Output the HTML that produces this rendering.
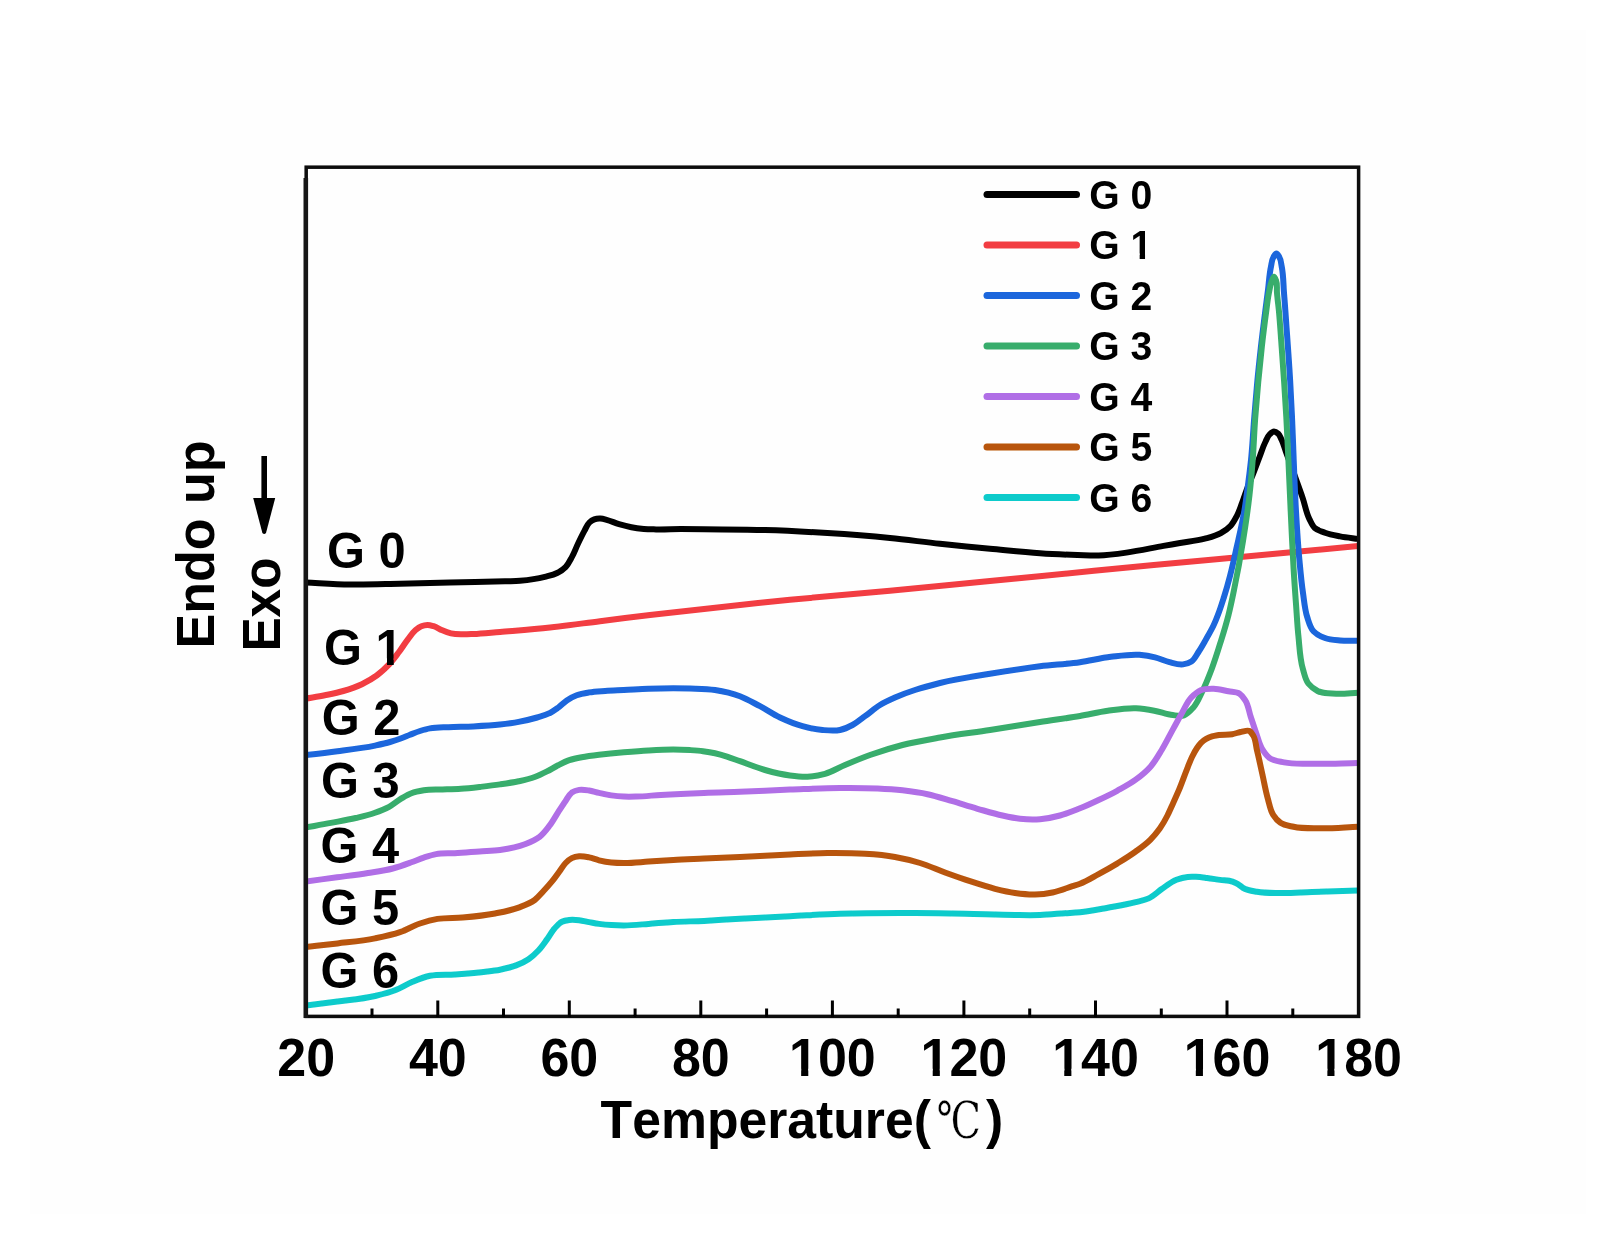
<!DOCTYPE html>
<html lang="en"><head><meta charset="utf-8"><title>DSC curves</title>
<style>
html,body{margin:0;padding:0;background:#fff;}
text{font-kerning:none;font-variant-ligatures:none;}
body{width:1616px;height:1244px;position:relative;overflow:hidden;font-family:"Liberation Sans","Noto Sans CJK SC",sans-serif;}
</style></head><body>
<svg width="1616" height="1244" viewBox="0 0 1616 1244" style="position:absolute;left:0;top:0">
<rect x="30" y="30" width="1556" height="1184" fill="#fefefe"/>
<defs><clipPath id="cp"><rect x="306.2" y="167.2" width="1052.4" height="849.2"/></clipPath><clipPath id="foot" clipPathUnits="userSpaceOnUse"><path clip-rule="evenodd" d="M0 0H1616V1244H0Z M791.28 1068.72H801.16V1076.56H791.28Z M808.29 1068.72H817.51V1076.56H808.29Z M922.83 1068.72H932.71V1076.56H922.83Z M939.84 1068.72H949.06V1076.56H939.84Z M1054.38 1068.72H1064.26V1076.56H1054.38Z M1071.39 1068.72H1080.61V1076.56H1071.39Z M1185.93 1068.72H1195.81V1076.56H1185.93Z M1202.94 1068.72H1212.16V1076.56H1202.94Z M1317.48 1068.72H1327.36V1076.56H1317.48Z M1334.49 1068.72H1343.71V1076.56H1334.49Z M1132.24 253.61H1139.67V259.80H1132.24Z M1145.05 253.61H1151.99V259.80H1145.05Z M377.74 658.15H387.01V665.51H377.74Z M393.70 658.15H402.35V665.51H393.70Z"/></clipPath><filter id="soft" x="-2%" y="-2%" width="104%" height="104%"><feGaussianBlur stdDeviation="0.5"/></filter></defs>
<g filter="url(#soft)">
<g clip-path="url(#cp)" fill="none" stroke-width="6.0" stroke-linejoin="round" stroke-linecap="butt">
<path d="M306.0 582.5 C320.7 583.2 335.3 584.2 350.0 584.5 C366.7 584.8 383.3 584.1 400.0 583.8 C425.0 583.3 450.0 582.6 475.0 582.0 C485.0 581.8 495.0 581.6 505.0 581.3 C510.0 581.1 515.0 581.2 520.0 580.8 C528.3 580.1 536.7 579.0 544.8 576.9 C548.9 575.8 553.3 575.0 557.1 573.0 C560.2 571.4 563.4 569.3 565.8 566.8 C568.4 564.0 570.1 560.3 572.0 556.9 C574.4 552.5 576.0 547.8 578.2 543.3 C580.2 539.1 582.2 534.9 584.4 530.9 C586.0 528.1 587.0 524.7 589.3 522.6 C590.7 521.3 592.5 520.1 594.3 519.4 C596.2 518.7 598.4 518.5 600.4 518.6 C602.5 518.7 604.6 519.3 606.6 519.8 C610.8 520.8 614.8 522.9 619.0 524.1 C623.1 525.3 627.2 526.4 631.4 527.2 C635.5 528.0 639.6 528.5 643.8 528.9 C647.9 529.3 652.0 529.3 656.1 529.4 C664.4 529.6 672.6 529.1 680.9 529.1 C688.6 529.1 696.3 529.2 704.0 529.3 C724.3 529.5 744.7 529.4 765.0 530.0 C785.8 530.6 806.7 531.7 827.5 533.0 C848.4 534.3 869.2 535.9 890.0 538.0 C906.7 539.7 923.3 542.0 940.0 543.8 C956.7 545.5 973.3 547.2 990.0 548.8 C1006.7 550.3 1023.3 552.2 1040.0 553.2 C1052.5 554.1 1065.0 554.6 1077.5 555.0 C1084.5 555.2 1091.6 555.7 1098.6 555.5 C1107.9 555.2 1117.2 553.9 1126.4 552.6 C1138.8 550.9 1151.1 548.1 1163.5 545.9 C1169.0 544.9 1174.5 544.0 1180.0 543.0 C1188.2 541.6 1196.7 540.9 1204.8 538.7 C1210.2 537.2 1215.9 535.9 1220.8 533.1 C1224.3 531.1 1228.0 528.7 1230.7 525.7 C1233.3 522.9 1235.1 519.2 1236.9 515.8 C1238.9 511.9 1240.3 507.6 1241.9 503.4 C1243.6 498.8 1245.1 494.1 1246.8 489.5 C1248.5 485.0 1250.4 480.6 1252.2 476.2 C1254.9 469.4 1257.4 462.5 1260.0 455.7 C1261.8 451.0 1263.3 446.0 1265.6 441.5 C1266.8 439.1 1267.7 436.3 1269.5 434.5 C1270.8 433.2 1272.5 431.4 1274.0 431.4 C1275.4 431.4 1277.1 432.7 1278.3 433.8 C1279.8 435.2 1280.5 437.6 1281.5 439.5 C1283.4 443.5 1284.5 447.8 1286.0 452.0 C1288.5 458.8 1291.0 465.6 1293.5 472.4 C1296.6 481.1 1299.9 489.7 1302.8 498.4 C1305.1 505.2 1306.1 512.4 1309.3 518.8 C1310.9 522.0 1312.3 525.7 1314.8 528.0 C1317.4 530.4 1321.5 531.4 1325.0 532.7 C1329.8 534.5 1335.0 535.4 1340.0 536.4 C1345.9 537.6 1352.0 538.1 1358.0 538.9" stroke="#000000"/>
<path d="M306.0 698.6 C312.2 697.5 318.5 696.6 324.8 695.3 C331.0 694.0 337.2 692.8 343.3 691.0 C349.6 689.1 356.0 687.0 361.9 684.2 C367.0 681.7 372.1 678.9 376.7 675.5 C381.2 672.2 385.3 668.4 389.1 664.4 C392.7 660.6 395.8 656.2 399.0 652.0 C402.0 648.0 404.6 643.6 407.7 639.6 C410.1 636.5 412.2 633.0 415.1 630.5 C417.0 628.9 419.0 627.1 421.3 626.2 C423.2 625.4 425.4 624.9 427.5 624.9 C429.6 624.9 431.7 625.6 433.7 626.2 C436.7 627.1 439.4 629.1 442.3 630.3 C445.1 631.5 448.0 632.6 451.0 633.3 C454.2 634.0 457.6 634.2 460.9 634.3 C465.0 634.5 469.2 634.2 473.3 634.0 C482.2 633.6 491.1 632.6 500.0 631.9 C516.7 630.5 533.4 629.3 550.0 627.5 C566.7 625.7 583.3 623.3 600.0 621.2 C616.7 619.2 633.3 617.0 650.0 615.0 C668.0 612.9 686.0 611.0 704.0 609.0 C732.7 605.9 761.3 602.6 790.0 599.8 C823.3 596.5 856.7 593.9 890.0 590.8 C923.3 587.7 956.7 584.3 990.0 581.0 C1024.7 577.6 1059.3 574.2 1094.0 570.8 C1135.7 566.8 1177.5 562.8 1219.2 558.9 C1265.5 554.6 1311.7 550.4 1358.0 546.1" stroke="#f23c42"/>
<path d="M306.0 755.0 C316.5 753.8 327.0 752.6 337.5 751.2 C350.0 749.6 362.6 748.2 375.0 745.6 C380.0 744.5 385.1 743.4 390.0 742.0 C393.4 741.0 396.7 740.0 400.0 738.8 C403.4 737.6 406.7 736.1 410.0 734.8 C413.3 733.5 416.6 732.1 420.0 731.0 C423.3 730.0 426.6 729.0 430.0 728.4 C436.0 727.3 442.3 727.5 448.5 727.2 C456.8 726.8 465.0 726.8 473.3 726.4 C482.2 726.0 491.1 725.6 500.0 724.6 C506.2 723.9 512.5 723.1 518.6 721.9 C524.8 720.7 531.0 719.3 537.1 717.5 C541.3 716.2 545.6 715.2 549.5 713.2 C552.6 711.7 555.4 709.6 558.2 707.6 C561.2 705.4 563.7 702.5 566.8 700.4 C569.9 698.4 573.3 696.6 576.7 695.3 C580.6 693.8 584.9 693.1 589.1 692.4 C594.4 691.5 599.8 691.3 605.2 690.9 C611.4 690.5 617.6 690.3 623.8 690.0 C632.0 689.6 640.3 689.0 648.5 688.7 C656.8 688.4 665.0 688.3 673.3 688.3 C678.9 688.3 684.4 688.3 690.0 688.5 C698.3 688.8 706.8 688.7 715.0 690.0 C723.5 691.3 732.0 693.2 740.0 696.2 C746.9 698.9 753.4 702.8 760.0 706.2 C766.8 709.8 773.1 714.2 780.0 717.5 C787.3 720.9 794.8 724.1 802.5 726.2 C809.0 728.1 815.8 729.4 822.5 730.0 C828.3 730.5 834.4 731.2 840.0 730.0 C844.3 729.1 848.6 727.1 852.5 725.0 C857.0 722.6 860.9 719.2 865.0 716.2 C870.1 712.6 874.7 708.2 880.0 705.0 C884.8 702.1 889.9 699.8 895.0 697.5 C901.5 694.6 908.2 692.2 915.0 690.0 C923.2 687.3 931.6 685.1 940.0 683.0 C956.4 678.9 973.3 676.5 990.0 673.8 C1006.6 671.0 1023.3 668.3 1040.0 666.2 C1053.3 664.6 1066.7 664.1 1080.0 662.2 C1090.3 660.7 1100.5 658.0 1110.9 656.8 C1120.3 655.7 1130.0 654.1 1139.4 654.8 C1144.6 655.2 1149.9 656.0 1155.0 657.3 C1159.9 658.5 1164.6 661.0 1169.5 662.2 C1173.9 663.3 1178.6 665.0 1183.0 664.4 C1185.8 664.0 1189.0 663.1 1191.4 661.5 C1194.7 659.3 1196.5 654.9 1198.8 651.5 C1201.5 647.5 1203.8 643.2 1206.2 639.0 C1208.7 634.6 1211.3 630.1 1213.5 625.5 C1215.6 621.1 1217.3 616.6 1219.0 612.0 C1220.8 607.1 1222.4 602.0 1224.0 597.0 C1226.2 590.1 1228.2 583.0 1230.0 576.0 C1232.4 566.7 1234.4 557.4 1236.5 548.0 C1239.3 535.4 1242.4 522.8 1244.5 510.0 C1245.9 501.7 1246.9 493.3 1248.0 485.0 C1249.1 476.7 1250.1 468.3 1251.0 460.0 C1252.5 445.7 1253.1 431.3 1254.3 417.0 C1255.3 405.2 1256.2 393.4 1257.3 381.6 C1258.4 369.8 1259.7 358.0 1261.0 346.2 C1262.3 334.4 1263.8 322.6 1265.3 310.8 C1266.2 303.9 1267.1 296.9 1268.0 290.0 C1269.0 282.2 1269.3 274.2 1271.0 266.5 C1271.7 263.3 1271.8 259.7 1273.5 257.0 C1274.3 255.8 1275.4 253.6 1276.4 253.6 C1277.4 253.6 1278.5 255.8 1279.3 257.0 C1281.0 259.7 1281.0 263.3 1281.7 266.5 C1283.5 275.2 1283.3 284.2 1284.0 293.0 C1285.0 304.8 1285.8 316.7 1286.6 328.5 C1287.9 346.2 1289.2 363.9 1290.2 381.6 C1290.9 393.4 1291.5 405.2 1292.0 417.0 C1292.7 431.3 1293.1 445.7 1293.7 460.0 C1294.4 477.1 1295.0 494.3 1296.0 511.4 C1296.9 526.9 1297.8 542.4 1299.2 557.8 C1300.3 569.6 1301.3 581.3 1303.0 593.0 C1304.2 601.0 1304.7 609.3 1307.2 617.0 C1308.8 621.9 1310.1 627.7 1313.5 631.3 C1316.4 634.4 1320.9 636.5 1325.0 638.0 C1329.7 639.7 1335.0 640.0 1340.0 640.5 C1346.0 641.1 1352.0 640.7 1358.0 640.8" stroke="#1a66dc"/>
<path d="M306.0 827.4 C314.3 825.9 322.6 824.5 330.9 822.9 C339.2 821.3 347.5 819.9 355.7 818.0 C361.9 816.5 368.3 815.1 374.3 813.0 C379.3 811.2 384.4 809.3 389.1 806.8 C393.5 804.4 397.2 800.9 401.5 798.4 C404.7 796.5 407.9 794.5 411.4 793.2 C415.3 791.7 419.6 790.9 423.8 790.2 C429.9 789.2 436.1 789.7 442.3 789.5 C448.5 789.3 454.7 789.2 460.9 788.8 C467.1 788.4 473.3 787.7 479.5 787.0 C486.3 786.2 493.2 785.4 500.0 784.4 C506.2 783.5 512.5 782.6 518.6 781.3 C524.0 780.1 529.5 778.9 534.7 777.0 C538.9 775.4 543.0 773.4 547.0 771.4 C550.8 769.5 554.4 767.1 558.2 765.2 C561.8 763.4 565.5 761.5 569.3 760.2 C573.3 758.8 577.5 758.0 581.7 757.2 C587.4 756.1 593.2 755.4 599.0 754.7 C607.2 753.7 615.5 752.9 623.8 752.2 C632.0 751.5 640.3 750.8 648.5 750.4 C656.8 750.0 665.0 749.6 673.3 749.6 C678.9 749.6 684.4 749.8 690.0 750.1 C694.3 750.4 698.7 750.7 703.0 751.2 C707.0 751.7 711.0 752.3 715.0 753.2 C719.1 754.1 723.0 755.3 727.0 756.6 C731.4 758.0 735.7 759.7 740.0 761.2 C748.3 764.2 756.5 767.6 765.0 770.0 C773.2 772.3 781.6 774.4 790.0 775.5 C795.8 776.3 801.7 777.0 807.5 776.8 C813.4 776.5 819.4 775.4 825.0 773.8 C831.9 771.8 838.3 767.8 845.0 765.0 C853.3 761.5 861.6 758.0 870.0 755.0 C880.7 751.2 891.5 747.8 902.5 745.0 C914.8 741.8 927.5 739.7 940.0 737.5 C956.6 734.5 973.3 732.6 990.0 730.0 C1006.7 727.4 1023.3 724.6 1040.0 722.0 C1053.3 719.9 1066.7 718.3 1080.0 716.0 C1089.3 714.4 1098.5 712.1 1107.8 710.8 C1117.1 709.5 1126.6 707.9 1136.0 708.3 C1142.1 708.6 1148.3 709.6 1154.3 710.7 C1160.5 711.8 1166.5 714.5 1172.8 715.1 C1176.5 715.5 1180.7 716.4 1184.0 715.3 C1187.5 714.1 1190.6 710.6 1193.2 707.7 C1197.4 703.1 1199.7 696.7 1202.5 691.0 C1206.1 683.8 1209.0 676.2 1211.8 668.7 C1215.3 659.5 1218.1 650.2 1221.0 640.8 C1223.7 632.2 1226.3 623.6 1228.5 614.9 C1230.6 606.7 1232.3 598.3 1234.0 590.0 C1237.4 573.7 1240.4 557.4 1243.0 541.0 C1245.5 525.7 1247.8 510.4 1249.5 495.0 C1250.8 483.4 1251.8 471.7 1252.7 460.0 C1253.8 445.7 1254.2 431.3 1255.3 417.0 C1256.2 405.2 1257.2 393.4 1258.3 381.6 C1259.4 369.8 1260.6 358.0 1261.9 346.2 C1263.2 334.4 1264.7 322.6 1266.3 310.8 C1267.1 304.9 1267.7 298.9 1268.9 293.0 C1269.7 289.1 1270.1 285.1 1271.6 281.5 C1272.3 279.9 1273.2 276.6 1274.0 276.8 C1274.7 276.9 1275.5 279.2 1276.0 280.5 C1277.6 284.3 1276.6 288.8 1277.0 293.0 C1277.5 298.9 1278.3 304.9 1278.9 310.8 C1280.0 322.6 1280.7 334.4 1281.6 346.2 C1282.5 358.0 1283.3 369.8 1284.1 381.6 C1284.9 393.4 1285.6 405.2 1286.3 417.0 C1287.1 431.3 1287.7 445.7 1288.4 460.0 C1289.2 477.1 1289.9 494.3 1290.7 511.4 C1291.6 529.9 1292.4 548.5 1293.5 567.0 C1294.2 579.3 1295.1 591.7 1296.0 604.0 C1296.8 615.0 1297.3 626.0 1298.5 637.0 C1299.6 647.6 1299.8 658.5 1302.8 668.7 C1304.3 673.7 1305.2 679.5 1308.3 683.5 C1310.7 686.5 1314.2 689.2 1317.6 691.0 C1323.0 693.8 1330.0 693.3 1336.2 693.7 C1343.4 694.1 1350.7 693.1 1358.0 692.8" stroke="#38ad6c"/>
<path d="M306.0 881.5 C316.4 880.1 326.7 878.7 337.1 877.3 C347.4 875.9 357.7 874.7 368.0 873.0 C376.3 871.7 384.7 870.7 392.8 868.5 C399.1 866.8 405.3 864.5 411.4 862.3 C415.6 860.8 419.6 859.0 423.8 857.6 C427.8 856.3 431.9 854.9 436.1 854.1 C442.2 853.0 448.5 853.6 454.7 853.2 C463.0 852.7 471.2 852.0 479.5 851.4 C486.3 850.9 493.2 850.9 500.0 850.0 C508.4 848.8 516.9 847.4 524.8 844.3 C529.9 842.3 535.3 840.2 539.6 836.8 C543.4 833.8 546.5 829.6 549.5 825.7 C552.8 821.4 555.3 816.6 558.2 812.1 C560.6 808.4 563.0 804.5 565.6 800.9 C567.6 798.1 569.1 794.5 571.8 792.6 C573.9 791.2 576.7 790.3 579.2 789.9 C582.4 789.4 585.8 790.0 589.1 790.5 C592.4 791.0 595.7 792.2 599.0 792.9 C603.1 793.8 607.2 794.8 611.4 795.4 C615.5 796.0 619.7 796.4 623.8 796.6 C627.9 796.8 632.0 796.7 636.1 796.6 C644.4 796.4 652.6 795.4 660.9 794.9 C675.3 794.0 689.6 793.4 704.0 792.9 C716.0 792.4 728.0 792.2 740.0 791.8 C756.7 791.2 773.3 790.2 790.0 789.6 C806.7 789.0 823.3 788.1 840.0 788.0 C852.5 787.9 865.0 787.9 877.5 788.5 C885.8 788.9 894.2 789.4 902.5 790.3 C910.9 791.3 919.3 792.4 927.5 794.2 C935.9 796.0 944.2 798.8 952.5 801.2 C960.9 803.7 969.1 806.4 977.5 808.8 C985.8 811.1 994.1 813.6 1002.5 815.5 C1008.3 816.8 1014.1 818.1 1020.0 818.8 C1026.6 819.5 1033.4 819.8 1040.0 819.2 C1046.7 818.7 1053.5 817.3 1060.0 815.5 C1066.8 813.7 1073.4 810.9 1080.0 808.3 C1086.3 805.8 1092.5 802.9 1098.6 800.0 C1104.8 797.1 1111.1 794.1 1117.1 790.8 C1123.4 787.3 1129.9 784.0 1135.7 779.7 C1141.0 775.8 1146.2 771.6 1150.5 766.7 C1154.9 761.7 1158.2 755.7 1161.7 750.0 C1165.7 743.4 1169.1 736.4 1172.8 729.6 C1175.9 724.0 1178.9 718.3 1182.1 712.7 C1185.1 707.5 1187.3 701.5 1191.4 697.3 C1194.1 694.6 1197.2 691.7 1200.7 690.2 C1204.6 688.6 1209.4 688.6 1213.7 688.7 C1218.7 688.8 1223.6 690.3 1228.5 691.3 C1232.2 692.0 1236.6 691.7 1239.6 693.7 C1241.9 695.2 1243.6 697.9 1245.2 700.2 C1248.4 705.0 1248.9 711.4 1250.8 717.0 C1252.7 722.6 1254.4 728.2 1256.4 733.7 C1258.2 738.7 1259.2 744.0 1261.9 748.5 C1263.9 751.9 1266.3 755.5 1269.3 757.8 C1273.3 760.8 1279.2 761.3 1284.2 762.4 C1293.2 764.3 1302.7 763.5 1312.0 763.7 C1327.3 764.1 1342.7 763.2 1358.0 763.0" stroke="#b06ee6"/>
<path d="M306.0 947.0 C316.5 945.8 327.0 944.7 337.5 943.4 C350.0 941.9 362.7 940.9 375.0 938.4 C383.4 936.7 391.9 935.0 400.0 932.2 C406.8 929.8 413.1 925.8 420.0 923.5 C425.7 921.6 431.6 919.9 437.5 918.9 C445.7 917.5 454.2 918.2 462.5 917.5 C473.4 916.6 484.3 915.6 495.0 913.5 C502.9 911.9 511.0 910.4 518.6 907.6 C524.1 905.5 530.0 903.5 534.7 900.0 C537.9 897.6 540.5 894.3 543.3 891.3 C546.3 888.1 549.2 884.8 552.0 881.4 C554.6 878.2 557.0 874.8 559.4 871.5 C561.5 868.7 563.1 865.5 565.6 863.0 C567.4 861.2 569.5 859.2 571.8 858.1 C574.0 857.0 576.7 856.4 579.2 856.2 C582.5 855.9 585.9 856.7 589.1 857.4 C592.5 858.1 595.7 859.5 599.0 860.3 C603.1 861.3 607.2 862.1 611.4 862.5 C615.5 862.9 619.7 863.0 623.8 863.0 C632.0 863.1 640.3 862.1 648.5 861.6 C656.8 861.1 665.0 860.4 673.3 859.9 C683.5 859.3 693.8 858.9 704.0 858.4 C716.0 857.9 728.0 857.5 740.0 857.0 C756.7 856.3 773.3 855.2 790.0 854.5 C802.5 853.9 815.0 853.1 827.5 853.0 C840.0 852.9 852.5 852.9 865.0 853.8 C875.0 854.4 885.1 855.2 895.0 857.0 C903.4 858.5 911.8 860.5 920.0 863.0 C928.5 865.6 936.6 869.4 945.0 872.5 C953.3 875.5 961.6 878.5 970.0 881.2 C978.3 883.9 986.6 886.6 995.0 888.8 C1001.6 890.4 1008.3 892.0 1015.0 893.0 C1021.6 893.9 1028.3 894.7 1035.0 894.5 C1040.8 894.4 1046.8 893.7 1052.5 892.5 C1059.3 891.1 1065.9 888.4 1072.5 886.2 C1075.0 885.4 1077.5 884.7 1080.0 883.8 C1086.5 881.4 1092.5 877.5 1098.6 874.2 C1104.8 870.8 1111.0 867.3 1117.1 863.6 C1123.4 859.7 1129.7 855.9 1135.7 851.5 C1140.8 847.8 1146.1 844.1 1150.5 839.6 C1153.9 836.2 1157.0 832.4 1159.8 828.5 C1162.6 824.6 1165.0 820.3 1167.2 816.0 C1169.4 811.8 1171.2 807.3 1173.2 803.0 C1175.0 799.1 1176.7 795.2 1178.4 791.3 C1181.8 783.4 1184.5 775.2 1187.7 767.3 C1189.1 763.9 1190.4 760.3 1192.0 757.0 C1193.5 753.9 1195.1 750.8 1197.0 748.0 C1198.2 746.2 1199.5 744.3 1201.0 742.8 C1202.5 741.3 1204.3 739.9 1206.2 738.8 C1208.0 737.8 1210.0 737.0 1212.0 736.4 C1214.3 735.7 1216.7 735.4 1219.0 735.0 C1223.3 734.3 1227.9 735.0 1232.2 734.2 C1235.3 733.7 1238.4 732.3 1241.5 731.8 C1244.1 731.3 1247.4 729.9 1249.5 731.0 C1251.0 731.8 1252.2 733.9 1253.2 735.5 C1255.7 739.5 1255.7 744.8 1256.8 749.5 C1258.9 757.9 1260.6 766.4 1262.5 774.8 C1264.3 783.0 1265.7 791.3 1268.0 799.3 C1269.5 804.5 1270.3 810.3 1273.2 814.8 C1275.1 817.8 1277.6 820.8 1280.5 822.8 C1284.1 825.3 1289.1 825.8 1293.5 826.8 C1302.5 828.8 1312.0 828.2 1321.3 828.3 C1333.5 828.4 1345.8 827.2 1358.0 826.7" stroke="#b8540c"/>
<path d="M306.0 1005.6 C316.5 1004.3 327.0 1003.0 337.5 1001.6 C350.0 999.9 362.7 998.9 375.0 996.0 C381.7 994.4 388.6 992.8 395.0 990.3 C401.0 988.0 406.5 984.3 412.5 981.8 C418.2 979.5 424.0 977.1 430.0 975.8 C438.1 974.1 446.7 975.1 455.0 974.5 C465.9 973.7 476.7 972.9 487.5 971.5 C491.7 971.0 495.9 970.5 500.0 969.7 C505.4 968.6 511.0 967.4 516.1 965.4 C520.4 963.7 524.7 961.8 528.5 959.2 C532.1 956.8 535.4 953.7 538.4 950.5 C541.6 947.1 544.2 943.2 547.0 939.4 C549.6 935.8 551.6 931.8 554.5 928.5 C556.7 926.0 559.0 923.1 561.9 921.7 C564.1 920.6 566.8 920.2 569.3 919.9 C572.5 919.5 575.9 919.8 579.2 920.2 C582.5 920.6 585.8 921.5 589.1 922.1 C592.4 922.7 595.7 923.4 599.0 923.9 C603.1 924.5 607.3 924.9 611.4 925.1 C615.5 925.3 619.7 925.4 623.8 925.4 C632.0 925.4 640.3 924.5 648.5 923.9 C656.8 923.3 665.0 922.5 673.3 922.0 C683.5 921.4 693.8 921.4 704.0 920.9 C716.0 920.3 728.0 919.4 740.0 918.8 C756.7 917.8 773.3 917.1 790.0 916.2 C806.7 915.4 823.3 914.3 840.0 913.8 C865.0 912.9 890.0 912.9 915.0 913.0 C931.7 913.1 948.3 913.4 965.0 913.8 C981.7 914.1 998.3 914.9 1015.0 915.0 C1023.3 915.1 1031.7 915.3 1040.0 915.0 C1048.3 914.7 1056.7 913.8 1065.0 913.2 C1070.0 912.9 1075.0 912.8 1080.0 912.3 C1089.3 911.4 1098.6 909.4 1107.8 907.7 C1117.1 906.0 1126.5 904.5 1135.7 902.1 C1140.1 901.0 1144.7 900.3 1148.7 898.4 C1153.5 896.2 1157.3 892.1 1161.7 889.1 C1166.5 885.8 1171.1 881.9 1176.5 879.8 C1180.0 878.4 1183.9 877.3 1187.7 876.9 C1190.4 876.6 1193.2 876.7 1196.0 876.8 C1199.7 876.9 1203.3 877.5 1207.0 878.0 C1211.3 878.5 1215.7 879.3 1220.0 879.9 C1224.2 880.5 1228.6 880.2 1232.5 881.6 C1234.2 882.2 1235.9 882.9 1237.5 883.8 C1239.5 884.9 1241.1 886.7 1243.0 887.8 C1247.2 890.2 1252.3 890.9 1257.0 891.8 C1264.7 893.3 1272.7 892.9 1280.5 893.0 C1291.0 893.2 1301.5 892.3 1312.0 892.0 C1327.3 891.5 1342.7 891.1 1358.0 890.6" stroke="#0ecbcb"/>
</g>
<rect x="306.2" y="167.2" width="1052.4" height="849.2" fill="none" stroke="#0a0a0a" stroke-width="3.5"/>
<path d="M305.8 178 V1018.1" fill="none" stroke="#141414" stroke-width="4.6"/>
<path d="M372.0 1016.4 V1008.4 M437.8 1016.4 V1000.4 M503.5 1016.4 V1008.4 M569.3 1016.4 V1000.4 M635.1 1016.4 V1008.4 M700.8 1016.4 V1000.4 M766.6 1016.4 V1008.4 M832.4 1016.4 V1000.4 M898.2 1016.4 V1008.4 M963.9 1016.4 V1000.4 M1029.7 1016.4 V1008.4 M1095.5 1016.4 V1000.4 M1161.3 1016.4 V1008.4 M1227.0 1016.4 V1000.4 M1292.8 1016.4 V1008.4" stroke="#000" stroke-width="3" fill="none"/>
<g font-family="'Liberation Sans', Arial, sans-serif" font-weight="bold" fill="#000" clip-path="url(#foot)">
<g font-size="52" text-anchor="middle">
<text transform="translate(306.2,1075.8) scale(1,1.03)">20</text>
<text transform="translate(437.8,1075.8) scale(1,1.03)">40</text>
<text transform="translate(569.3,1075.8) scale(1,1.03)">60</text>
<text transform="translate(700.8,1075.8) scale(1,1.03)">80</text>
<text transform="translate(832.4,1075.8) scale(1,1.03)">100</text>
<text transform="translate(963.9,1075.8) scale(1,1.03)">120</text>
<text transform="translate(1095.5,1075.8) scale(1,1.03)">140</text>
<text transform="translate(1227.0,1075.8) scale(1,1.03)">160</text>
<text transform="translate(1358.6,1075.8) scale(1,1.03)">180</text>
</g>
<text transform="translate(600.6,1138.4) scale(1,1.03)" font-size="51.7">Temperature(<tspan dx="5.6" font-family="'DejaVu Serif', 'Noto Serif CJK SC', serif" font-weight="normal" font-size="49.5" textLength="44.6" lengthAdjust="spacingAndGlyphs" stroke="#fefefe" stroke-width="0.4">℃</tspan><tspan dx="5.0">)</tspan></text>
<text transform="translate(1089.2,208.7) scale(0.955,1)" font-size="41">G 0</text>
<text transform="translate(1089.2,259.2) scale(0.955,1)" font-size="41">G 1</text>
<text transform="translate(1089.2,309.7) scale(0.955,1)" font-size="41">G 2</text>
<text transform="translate(1089.2,360.2) scale(0.955,1)" font-size="41">G 3</text>
<text transform="translate(1089.2,410.7) scale(0.955,1)" font-size="41">G 4</text>
<text transform="translate(1089.2,461.2) scale(0.955,1)" font-size="41">G 5</text>
<text transform="translate(1089.2,511.7) scale(0.955,1)" font-size="41">G 6</text>
<text transform="translate(327.1,567.8) scale(1,1.02)" font-size="48.8">G 0</text>
<text transform="translate(324.1,664.8) scale(1,1.02)" font-size="48.8">G 1</text>
<text transform="translate(321.8,734.7) scale(1,1.02)" font-size="48.8">G 2</text>
<text transform="translate(321.1,797.5) scale(1,1.02)" font-size="48.8">G 3</text>
<text transform="translate(320.6,863.0) scale(1,1.02)" font-size="48.8">G 4</text>
<text transform="translate(320.6,925.0) scale(1,1.02)" font-size="48.8">G 5</text>
<text transform="translate(320.6,988.0) scale(1,1.02)" font-size="48.8">G 6</text>
<text transform="translate(214.3,648.4) rotate(-90) scale(1,1.02)" font-size="52">Endo up</text>
<text transform="translate(279.6,651.6) rotate(-90) scale(1,1.03)" font-size="51.3">Exo</text>
</g>
<g stroke-width="7" stroke-linecap="round" fill="none">
<path d="M987 194.5 H1076.5" stroke="#000000"/>
<path d="M987 245.0 H1076.5" stroke="#f23c42"/>
<path d="M987 295.5 H1076.5" stroke="#1a66dc"/>
<path d="M987 346.0 H1076.5" stroke="#38ad6c"/>
<path d="M987 396.5 H1076.5" stroke="#b06ee6"/>
<path d="M987 447.0 H1076.5" stroke="#b8540c"/>
<path d="M987 497.5 H1076.5" stroke="#0ecbcb"/>
</g>
<path d="M264.2 456 V502" stroke="#000" stroke-width="5.6" fill="none"/>
<path d="M253.2 498 H275.2 L266 533 Q264.2 535 262.4 533 Z" fill="#000"/>
</g>
</svg>
</body></html>
